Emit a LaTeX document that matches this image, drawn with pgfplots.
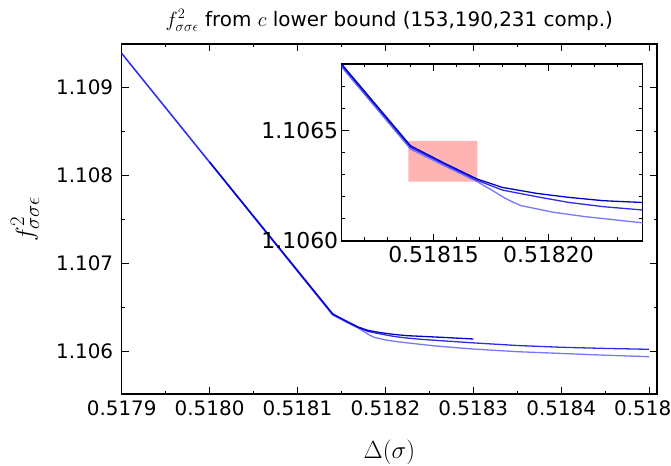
\documentclass[border=0pt]{standalone}
\usepackage{fontspec}
\setmainfont{DejaVu Sans}
\usepackage{pgfplots}
\usepackage{pgfplotstable}
\pgfplotsset{compat=1.18}

\pgfplotstableread{
x y
0.5180 1.108152
0.51814 1.106430
0.518155 1.106350
0.518169 1.106280
0.51818 1.106242
0.518195 1.106215
0.518209 1.106197
0.518224 1.106182
0.518241 1.106174
0.51827 1.106160
0.5183 1.106144
}\curveA

\pgfplotstableread{
x y
0.5179 1.109385
0.51814 1.106423
0.518155 1.106345
0.518169 1.106274
0.51818 1.106230
0.518195 1.106200
0.518209 1.106174
0.518224 1.106155
0.518241 1.106140
0.51827 1.106120
0.5183 1.106100
0.51835 1.106070
0.5184 1.106050
0.51845 1.106037
0.5185 1.106027
}\curveB

\pgfplotstableread{
x y
0.5179 1.109380
0.51814 1.106415
0.518155 1.106338
0.518169 1.106268
0.518175 1.106232
0.51818 1.106200
0.518184 1.106178
0.518188 1.106160
0.518195 1.106145
0.518202 1.106130
0.518216 1.106110
0.518241 1.106082
0.51826 1.106062
0.5183 1.106030
0.51835 1.106000
0.5184 1.105980
0.51845 1.105960
0.5185 1.105943
}\curveC

\pgfplotstableread{
x y
0.518139 1.106268
0.518169 1.106268
0.518169 1.106452
0.518139 1.106452
0.518139 1.106268
}\pinkrect

\definecolor{cA}{RGB}{0,0,200}
\definecolor{cB}{RGB}{45,45,235}
\definecolor{cC}{RGB}{120,120,250}
\definecolor{pinkbox}{RGB}{255,179,179}

\makeatletter
\def\mytrafo#1#2#3{%
  \pgfutil@in@{Y}{#1}%
  \ifpgfutil@in@
    \pgfmathfloattosci{#1}\edef\my@tmpv{\pgfmathresult}%
  \else
    \edef\my@tmpv{#1}%
  \fi
  \edef\pgfmathresult{\fpeval{(\my@tmpv-#2)*#3}}}
\makeatother

\pgfplotsset{
  trafo/.style={
    x coord trafo/.code={\mytrafo{##1}{0.518}{100000}},
    y coord trafo/.code={\mytrafo{##1}{1.106}{100000}},
  },
  mystyle/.style={
    scale only axis,
    tick align=inside,
    major tick length=7bp,
    minor tick length=3.5bp,
    every tick/.style={black, line width=0.9bp},
    axis line style={line width=1.1bp},
  },
  curve/.style={#1, line width=1.3bp, line join=round},
}

\begin{document}
\begin{tikzpicture}
\useasboundingbox (-121.7bp,-72bp) rectangle (549.3bp,394bp);
\begin{axis}[
  trafo, mystyle,
  at={(0,0)}, anchor=south west,
  width=535.3bp, height=350bp,
  xmin=0.5179, xmax=0.518509, ymin=1.10552, ymax=1.10949,
  xtick={0.5179,0.518,0.5181,0.5182,0.5183,0.5184,0.5185},
  xticklabels={0.5179,0.5180,0.5181,0.5182,0.5183,0.5184,0.5185},
  minor xtick={0.51795,0.51805,0.51815,0.51825,0.51835,0.51845},
  ytick={1.106,1.107,1.108,1.109},
  yticklabels={1.106,1.107,1.108,1.109},
  minor ytick={1.1065,1.1075,1.1085},
  ticklabel style={font=\fontsize{20}{24}\selectfont},
  xticklabel style={yshift=-3.3bp},
  yticklabel style={xshift=-5bp},
  xlabel={$\Delta(\sigma)$},
  xlabel style={font=\fontsize{27}{32}\selectfont, at={(axis description cs:0.5,-0.183)}, anchor=base},
  ylabel={$f^2_{\sigma\sigma\epsilon}$},
  ylabel style={font=\fontsize{30}{36}\selectfont, at={(axis description cs:-0.1806,0.5)}, anchor=center},
  title={$f^2_{\sigma\sigma\epsilon}$ from $c$ lower bound (153,190,231 comp.)},
  title style={font=\fontsize{20}{24}\selectfont, at={(axis description cs:0.5,1)}, anchor=base, yshift=12bp},
]
\addplot[curve=cC] table {\curveC};
\addplot[curve=cB] table {\curveB};
\addplot[curve=cA] table {\curveA};
\end{axis}

\begin{axis}[
  trafo, mystyle,
  at={(220bp,153bp)}, anchor=south west,
  width=301bp, height=177bp,
  axis background/.style={fill=white},
  xmin=0.51811, xmax=0.518241, ymin=1.106, ymax=1.1068,
  xtick={0.51815,0.5182},
  xticklabels={0.51815,0.51820},
  minor xtick={0.51812,0.51813,0.51814,0.51816,0.51817,0.51818,0.51819,0.51821,0.51822,0.51823},
  ytick={1.106,1.1065},
  yticklabels={1.1060,1.1065},
  minor ytick={1.1061,1.1062,1.1063,1.1064,1.1066,1.1067},
  ticklabel style={font=\fontsize{22}{26}\selectfont},
  xticklabel style={yshift=-1.7bp},
]
\addplot[fill=pinkbox, draw=none] table {\pinkrect};
\addplot[curve=cC] table {\curveC};
\addplot[curve=cB] table {\curveB};
\addplot[curve=cA] table {\curveA};
\end{axis}
\end{tikzpicture}
\end{document}
